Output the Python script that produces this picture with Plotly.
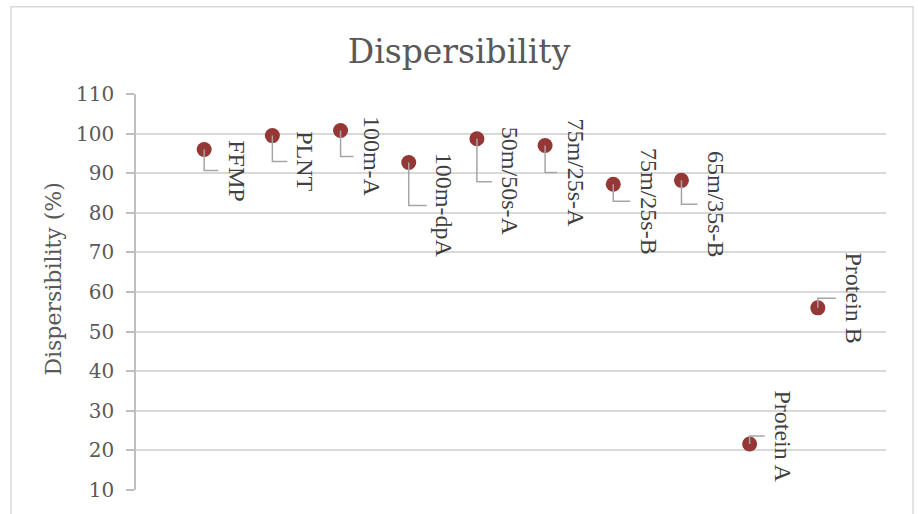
import plotly.graph_objects as go

# ---- data ----
samples = ["FFMP", "PLNT", "100m-A", "100m-dpA", "50m/50s-A",
           "75m/25s-A", "75m/25s-B", "65m/35s-B", "Protein A", "Protein B"]
dispersibility = [96.0, 99.5, 100.8, 92.7, 98.7, 97.0, 87.2, 88.2, 21.6, 56.0]
y_ticks = [10, 20, 30, 40, 50, 60, 70, 80, 90, 100, 110]

# ---- label placement (pixels, screen: +dx right, +dy down) ----
label_dx = [32, 33, 31, 36, 33, 30, 35, 34, 33, 36]
label_dy = [21, 26, 26, 43, 43, 27, 17, 24, -8, -9.5]
leader_gap = 18

xs = list(range(1, len(samples) + 1))

fig = go.Figure()
fig.add_trace(go.Scatter(
    x=xs, y=dispersibility, mode="markers",
    marker=dict(size=15, color="#953735"),
    hoverinfo="text", text=samples, showlegend=False,
))

W, H = 918, 514
L, R, T, B = 136, 32, 94, 21

annotations = []
shapes = []
for x, y, name, dx, dy in zip(xs, dispersibility, samples, label_dx, label_dy):
    annotations.append(dict(
        x=x, y=y, xref="x", yref="y", text=name, showarrow=False,
        textangle=90, xanchor="center", yanchor="middle",
        xshift=dx, yshift=-dy,
        font=dict(family="Liberation Serif", size=24, color="#404040"),
    ))
    ex = dx - leader_gap
    shapes.append(dict(
        type="path", xref="x", yref="y",
        xsizemode="pixel", ysizemode="pixel", xanchor=x, yanchor=y,
        path=f"M 0,0 L 0,{-dy} L {ex},{-dy}",
        line=dict(color="#a6a6a6", width=1.5), layer="above",
    ))

# axis title
annotations.append(dict(
    x=(54 - L) / (W - L - R), y=(H - B - 281) / (H - T - B),
    xref="paper", yref="paper", text="Dispersibility (%)", showarrow=False,
    textangle=-90, xanchor="center", yanchor="middle",
    font=dict(family="DejaVu Serif", size=22, color="#595959"),
))

# outer chart border
shapes.append(dict(
    type="rect", xref="paper", yref="paper",
    x0=(11 - L) / (W - L - R), x1=(913 - L) / (W - L - R),
    y0=-0.2, y1=(H - B - 6) / (H - T - B),
    line=dict(color="#d9d9d9", width=1.5), layer="below",
))

fig.update_layout(
    width=W, height=H,
    margin=dict(l=L, r=R, t=T, b=B),
    paper_bgcolor="white", plot_bgcolor="white",
    title=dict(text="Dispersibility", x=0.5, xanchor="center",
               y=1 - 51 / H, yanchor="middle", yref="container",
               font=dict(family="DejaVu Serif", size=33, color="#595959")),
    xaxis=dict(range=[0, 11], showgrid=False, zeroline=False,
               showticklabels=False, ticks="", showline=False, fixedrange=True),
    yaxis=dict(range=[10, 110], tickvals=y_ticks, showgrid=True,
               gridcolor="#d9d9d9", gridwidth=1.5, zeroline=False,
               showline=True, linecolor="#bfbfbf", linewidth=1.5,
               ticks="outside", ticklen=8, tickcolor="#bfbfbf", tickwidth=1.5,
               ticklabelstandoff=8,
               tickfont=dict(family="DejaVu Serif", size=20, color="#595959")),
    annotations=annotations, shapes=shapes,
)

fig.write_html("out.html", config={"displayModeBar": False},
               post_script="document.body.style.margin='0';document.body.style.overflow='hidden';")
